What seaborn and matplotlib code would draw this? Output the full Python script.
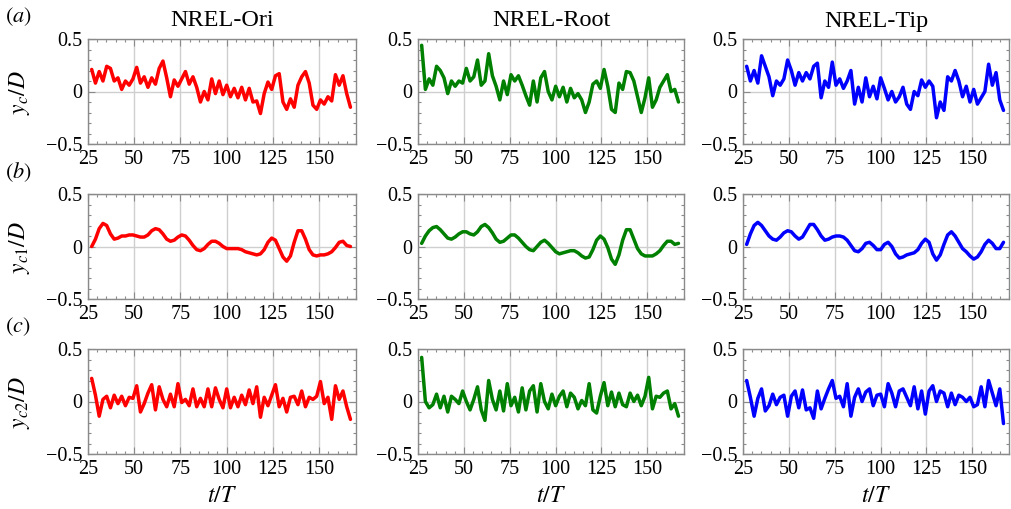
import numpy as np
import pandas as pd
import matplotlib
matplotlib.use("Agg")
import matplotlib.pyplot as plt
from matplotlib.ticker import MultipleLocator
import seaborn as sns

# time axis t/T (same sampling for every series)
t = np.linspace(27, 167, 70)

# (a) y_c / D
ori_yc = [0.21, 0.08, 0.19, 0.10, 0.24, 0.22, 0.10, 0.13, 0.02, 0.10,
          0.06, 0.12, 0.23, 0.08, 0.14, 0.04, 0.13, 0.07, 0.22, 0.29,
          0.13, -0.05, 0.11, 0.05, 0.12, 0.19, 0.07, 0.14, 0.04, -0.10,
          0.00, -0.08, 0.12, -0.02, 0.10, -0.03, 0.06, -0.05, 0.03, -0.06,
          0.04, -0.08, 0.03, -0.10, -0.09, -0.21, -0.02, 0.09, 0.02, 0.15,
          0.17, -0.10, -0.17, -0.07, -0.15, 0.06, 0.14, 0.19, 0.08, -0.13,
          -0.17, -0.08, -0.12, -0.05, -0.09, 0.16, 0.06, 0.15, -0.02, -0.15]
root_yc = [0.44, 0.02, 0.12, 0.06, 0.24, 0.20, 0.13, -0.02, 0.10, 0.05,
           0.10, 0.08, 0.22, 0.10, 0.14, 0.30, 0.06, 0.10, 0.36, 0.15,
           0.05, -0.08, 0.10, -0.03, 0.16, 0.10, 0.15, 0.06, -0.04, -0.13,
           0.10, -0.10, 0.13, 0.19, 0.00, -0.08, 0.05, -0.05, 0.04, -0.10,
           0.03, -0.06, -0.02, -0.08, -0.20, -0.10, 0.07, 0.10, 0.03, 0.21,
           0.05, -0.17, -0.20, 0.08, 0.02, 0.19, 0.18, 0.10, -0.05, -0.20,
           -0.06, 0.13, -0.15, -0.08, 0.04, 0.10, 0.16, 0.00, 0.02, -0.10]
tip_yc = [0.24, 0.10, 0.20, 0.08, 0.34, 0.24, 0.14, -0.04, 0.10, 0.06,
          0.12, 0.30, 0.20, 0.06, 0.18, 0.10, 0.18, 0.12, 0.24, 0.27,
          -0.06, 0.10, 0.04, 0.28, 0.06, 0.12, 0.03, 0.10, 0.20, -0.12,
          0.04, -0.10, 0.13, -0.05, 0.05, -0.07, 0.13, 0.03, -0.08, 0.00,
          -0.10, -0.05, 0.04, -0.12, -0.17, 0.00, -0.04, 0.11, 0.04, 0.10,
          0.05, -0.25, -0.10, -0.18, 0.14, 0.10, 0.20, 0.10, -0.05, 0.05,
          -0.10, 0.02, -0.12, -0.06, 0.00, 0.26, 0.06, 0.18, -0.08, -0.18]

# (b) y_c1 / D
ori_yc1 = [0.00, 0.07, 0.17, 0.22, 0.20, 0.12, 0.07, 0.08, 0.10, 0.10,
           0.11, 0.11, 0.10, 0.09, 0.09, 0.11, 0.15, 0.17, 0.16, 0.12,
           0.07, 0.05, 0.06, 0.09, 0.11, 0.10, 0.06, 0.01, -0.03, -0.04,
           -0.02, 0.02, 0.05, 0.05, 0.03, 0.00, -0.02, -0.02, -0.02, -0.02,
           -0.03, -0.05, -0.06, -0.07, -0.08, -0.07, -0.03, 0.04, 0.08, 0.06,
           -0.02, -0.10, -0.14, -0.09, 0.04, 0.15, 0.15, 0.07, -0.03, -0.08,
           -0.09, -0.08, -0.08, -0.07, -0.05, -0.01, 0.04, 0.05, 0.01, 0.00]
root_yc1 = [0.03, 0.10, 0.15, 0.18, 0.19, 0.16, 0.12, 0.08, 0.07, 0.09,
            0.12, 0.14, 0.14, 0.12, 0.11, 0.14, 0.19, 0.21, 0.18, 0.13,
            0.07, 0.04, 0.05, 0.08, 0.11, 0.11, 0.08, 0.04, 0.00, -0.03,
            -0.04, 0.00, 0.04, 0.06, 0.03, -0.01, -0.05, -0.07, -0.06, -0.05,
            -0.04, -0.04, -0.06, -0.09, -0.11, -0.10, -0.03, 0.06, 0.10, 0.07,
            -0.01, -0.12, -0.17, -0.08, 0.06, 0.16, 0.16, 0.07, -0.02, -0.07,
            -0.09, -0.09, -0.09, -0.07, -0.04, 0.01, 0.05, 0.05, 0.02, 0.03]
tip_yc1 = [0.02, 0.12, 0.20, 0.23, 0.20, 0.15, 0.10, 0.07, 0.06, 0.09,
           0.13, 0.15, 0.14, 0.10, 0.07, 0.09, 0.15, 0.21, 0.21, 0.16,
           0.10, 0.06, 0.07, 0.09, 0.10, 0.10, 0.09, 0.06, 0.01, -0.04,
           -0.05, -0.02, 0.03, 0.04, 0.01, -0.03, -0.03, 0.02, 0.04, 0.00,
           -0.07, -0.11, -0.10, -0.08, -0.07, -0.06, -0.03, 0.03, 0.07, 0.04,
           -0.07, -0.13, -0.08, 0.02, 0.11, 0.14, 0.10, 0.04, -0.02, -0.05,
           -0.09, -0.12, -0.10, -0.05, 0.02, 0.06, 0.03, -0.02, -0.02, 0.04]

# (c) y_c2 / D
ori_yc2 = [0.22, 0.06, -0.14, 0.02, 0.05, -0.06, 0.06, -0.02, 0.05, -0.04,
           0.04, 0.03, 0.15, -0.10, -0.02, 0.08, 0.16, -0.08, 0.14, 0.02,
           -0.05, 0.07, -0.05, 0.17, -0.01, 0.02, -0.04, 0.12, -0.05, 0.03,
           -0.05, 0.12, -0.05, 0.13, 0.02, -0.06, 0.12, -0.06, 0.04, -0.05,
           0.06, -0.03, 0.11, -0.02, 0.14, -0.15, 0.04, -0.04, 0.06, 0.16,
           -0.05, 0.03, -0.10, 0.04, 0.05, -0.03, 0.10, -0.05, 0.04, 0.02,
           0.05, 0.19, -0.02, 0.04, -0.17, 0.15, 0.02, 0.10, -0.05, -0.17]
root_yc2 = [0.42, 0.00, -0.06, -0.03, 0.07, -0.06, 0.05, -0.10, 0.05, 0.02,
            -0.02, 0.10, 0.00, -0.08, 0.02, 0.14, -0.08, -0.18, 0.20, 0.02,
            -0.08, 0.10, -0.09, 0.17, -0.04, 0.04, -0.10, 0.13, -0.08, 0.10,
            0.15, -0.10, 0.17, 0.00, -0.07, 0.07, -0.04, 0.05, 0.10, -0.05,
            0.08, 0.04, -0.07, 0.01, -0.04, 0.17, -0.08, -0.11, 0.05, 0.18,
            -0.04, 0.09, -0.05, 0.08, -0.03, -0.05, 0.08, 0.00, 0.06, -0.04,
            0.05, 0.23, -0.07, 0.05, 0.04, 0.08, 0.10, -0.07, -0.02, -0.14]
tip_yc2 = [0.20, 0.04, -0.14, 0.03, 0.12, -0.09, -0.04, 0.07, -0.03, 0.04,
           0.06, -0.14, 0.05, 0.10, -0.06, 0.11, -0.08, -0.06, -0.16, 0.10,
           -0.07, 0.03, 0.12, 0.20, 0.03, 0.05, -0.05, 0.17, -0.14, 0.04,
           0.12, 0.00, 0.09, 0.12, -0.04, 0.06, 0.07, -0.05, 0.17, 0.08,
           -0.05, 0.10, 0.12, 0.04, -0.04, 0.14, -0.07, 0.10, -0.12, 0.10,
           0.15, 0.00, 0.10, 0.08, -0.05, 0.08, -0.03, 0.06, 0.04, 0.00,
           0.04, -0.05, -0.03, 0.14, -0.05, 0.20, 0.08, -0.04, 0.12, -0.21]

cases = ["NREL-Ori", "NREL-Root", "NREL-Tip"]
colors = ["#ff0000", "#008000", "#0000ff"]
rows = [
    ("(a)", r"$y_c/D$", [ori_yc, root_yc, tip_yc]),
    ("(b)", r"$y_{c1}/D$", [ori_yc1, root_yc1, tip_yc1]),
    ("(c)", r"$y_{c2}/D$", [ori_yc2, root_yc2, tip_yc2]),
]

sns.set_theme(style="ticks")
plt.rcParams["font.family"] = ["Liberation Serif", "DejaVu Serif"]
plt.rcParams["mathtext.fontset"] = "stix"
plt.rcParams["text.color"] = "black"
plt.rcParams["axes.titlecolor"] = "black"

W, H = 1011, 509
fig = plt.figure(figsize=(W / 100, H / 100), dpi=100)

# panel boxes in pixels: left, right / top
col_px = [(88, 356), (418, 684), (743, 1009)]
row_top = [39, 194, 349]
ax_h = 105

for r, (tag, ylab, series) in enumerate(rows):
    top = row_top[r]
    for c, (x0, x1) in enumerate(col_px):
        ax = fig.add_axes([x0 / W, 1 - (top + ax_h) / H, (x1 - x0) / W, ax_h / H])
        df = pd.DataFrame({"t": t, "y": series[c]})
        sns.lineplot(data=df, x="t", y="y", ax=ax, color=colors[c],
                     linewidth=2.5, solid_joinstyle="round")
        ax.set_xlim(25, 170)
        ax.set_ylim(-0.5, 0.5)
        ax.set_xticks([25, 50, 75, 100, 125, 150])
        ax.set_yticks([-0.5, 0, 0.5])
        ax.set_yticklabels(["\u22120.5", "0", "0.5"])
        ax.xaxis.set_minor_locator(MultipleLocator(5))
        ax.yaxis.set_minor_locator(MultipleLocator(0.1))
        ax.grid(True, which="major", color="#cfcfcf", linewidth=1.0)
        ax.set_axisbelow(True)
        ax.tick_params(which="both", direction="in", top=True, right=True,
                       color="#8a8a8a", width=0.8, labelsize=14.5, labelcolor="black")
        ax.tick_params(which="major", length=5)
        ax.tick_params(which="minor", length=2.5)
        ax.tick_params(axis="x", pad=4)
        ax.tick_params(axis="y", pad=4)
        for s in ax.spines.values():
            s.set_color("#8a8a8a")
            s.set_linewidth(1.0)
        ax.set_xlabel("")
        ax.set_ylabel("")
        if r == 0:
            ax.set_title(cases[c], fontsize=17.5, pad=9, color="black")
        if r == 2:
            fig.text((x0 + x1) / 2 / W, 1 - 496 / H, r"$t/T$", fontsize=17,
                     ha="center", va="center")
    fig.text(20 / W, 1 - (top + 54) / H, ylab, fontsize=17, rotation=90,
             ha="center", va="center")
    fig.text(5 / W, 1 - (top - 22) / H, r"$(\mathit{" + tag[1] + "})$", fontsize=16,
             ha="left", va="center")

fig.savefig("out.png", dpi=100)
